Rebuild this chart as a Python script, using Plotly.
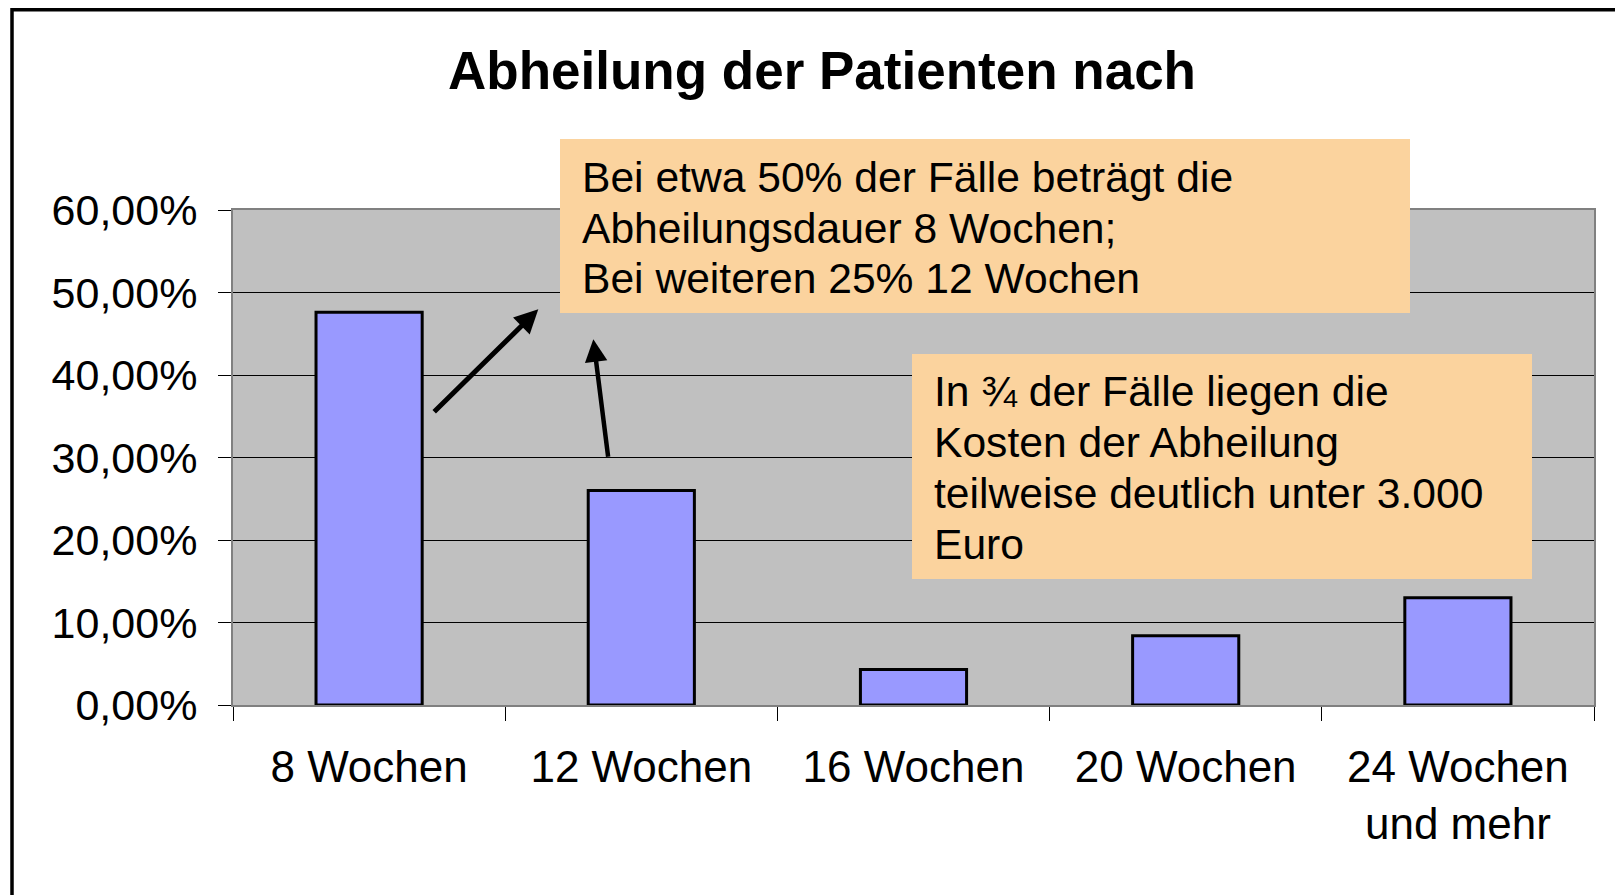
import plotly.graph_objects as go

categories = ["8 Wochen", "12 Wochen", "16 Wochen", "20 Wochen", "24 Wochen<br>und mehr"]
values = [0.476, 0.26, 0.043, 0.084, 0.13]
y_tickvals = [0, 0.1, 0.2, 0.3, 0.4, 0.5, 0.6]
y_ticktext = ["0,00%", "10,00%", "20,00%", "30,00%", "40,00%", "50,00%", "60,00%"]
title_text = "Abheilung der Patienten nach"
box1_lines = ["Bei etwa 50% der Fälle beträgt die",
              "Abheilungsdauer 8 Wochen;",
              "Bei weiteren 25% 12 Wochen"]
box2_lines = ["In ¾ der Fälle liegen die",
              "Kosten der Abheilung",
              "teilweise deutlich unter 3.000",
              "Euro"]

FONT = "Liberation Sans, Arial, sans-serif"
OFF = 8  # page body margin
W, H = 1623 - OFF, 895 - OFF
L, R, T, B = 225, 29, 202, 190
PW, PH = W - L - R, H - T - B


def px(x):
    # x given in page (reference) pixels
    return (x - OFF - L) / PW


def py(y):
    return (H - B - (y - OFF)) / PH


fig = go.Figure()
fig.add_trace(go.Bar(
    x=categories, y=values,
    marker=dict(color="#9999FF", line=dict(color="#000000", width=3)),
    hoverinfo="skip",
))

shapes = [
    # outer frame
    dict(type="rect", xref="paper", yref="paper",
         x0=px(12), x1=px(1660), y0=py(OFF + 1.8), y1=py(940),
         line=dict(color="#000000", width=3.5), fillcolor="rgba(0,0,0,0)", layer="above"),
    # callout boxes
    dict(type="rect", xref="paper", yref="paper",
         x0=px(560), x1=px(1410), y0=py(139), y1=py(313),
         line=dict(width=0), fillcolor="#FBD39E", layer="above"),
    dict(type="rect", xref="paper", yref="paper",
         x0=px(912), x1=px(1532), y0=py(354), y1=py(579),
         line=dict(width=0), fillcolor="#FBD39E", layer="above"),
]

annotations = []
for i, line in enumerate(box1_lines):
    annotations.append(dict(xref="paper", yref="paper", x=px(580), y=py(177 + i * 50.7),
                            xanchor="left", yanchor="middle", showarrow=False, text=line,
                            font=dict(family=FONT, size=42.6, color="#000000")))
for i, line in enumerate(box2_lines):
    annotations.append(dict(xref="paper", yref="paper", x=px(932), y=py(391 + i * 51.1),
                            xanchor="left", yanchor="middle", showarrow=False, text=line,
                            font=dict(family=FONT, size=42.6, color="#000000")))

# arrows
annotations.append(dict(x=0.6216, y=0.4796, ax=0.2337, ay=0.3536, xref="x", yref="y",
                        axref="x", ayref="y", showarrow=True, arrowhead=2, arrowsize=0.95,
                        arrowwidth=5, arrowcolor="#000000", text=""))
annotations.append(dict(x=0.8237, y=0.4433, ax=0.8788, ay=0.299, xref="x", yref="y",
                        axref="x", ayref="y", showarrow=True, arrowhead=2, arrowsize=1.0,
                        arrowwidth=4.5, arrowcolor="#000000", text=""))

fig.update_layout(
    width=W, height=H,
    margin=dict(l=L, r=R, t=T, b=B, pad=0),
    paper_bgcolor="#FFFFFF",
    plot_bgcolor="#C0C0C0",
    bargap=0.61,
    showlegend=False,
    title=dict(text="<b>" + title_text + "</b>", x=(822 - OFF) / W, xanchor="center",
               xref="container", y=1 - (70 - OFF) / H, yanchor="middle", yref="container",
               font=dict(family=FONT, size=53, color="#000000")),
    shapes=shapes,
    annotations=annotations,
)

fig.update_xaxes(
    type="category",
    showline=True, linecolor="#808080", linewidth=2, mirror=True,
    ticks="outside", tickson="boundaries", ticklen=14, tickcolor="#000000", tickwidth=1,
    tickfont=dict(family=FONT, size=44, color="#000000"),
    ticklabelstandoff=22,
    showgrid=False, zeroline=False, fixedrange=True,
)
fig.update_yaxes(
    range=[0, 0.6],
    tickvals=y_tickvals, ticktext=y_ticktext,
    showline=True, linecolor="#808080", linewidth=2, mirror=True,
    ticks="outside", ticklen=13, tickcolor="#000000", tickwidth=1,
    tickfont=dict(family=FONT, size=43, color="#000000"),
    ticklabelstandoff=12,
    showgrid=True, gridcolor="#000000", gridwidth=1,
    zeroline=False, fixedrange=True,
)

fig.write_html("out.html")
